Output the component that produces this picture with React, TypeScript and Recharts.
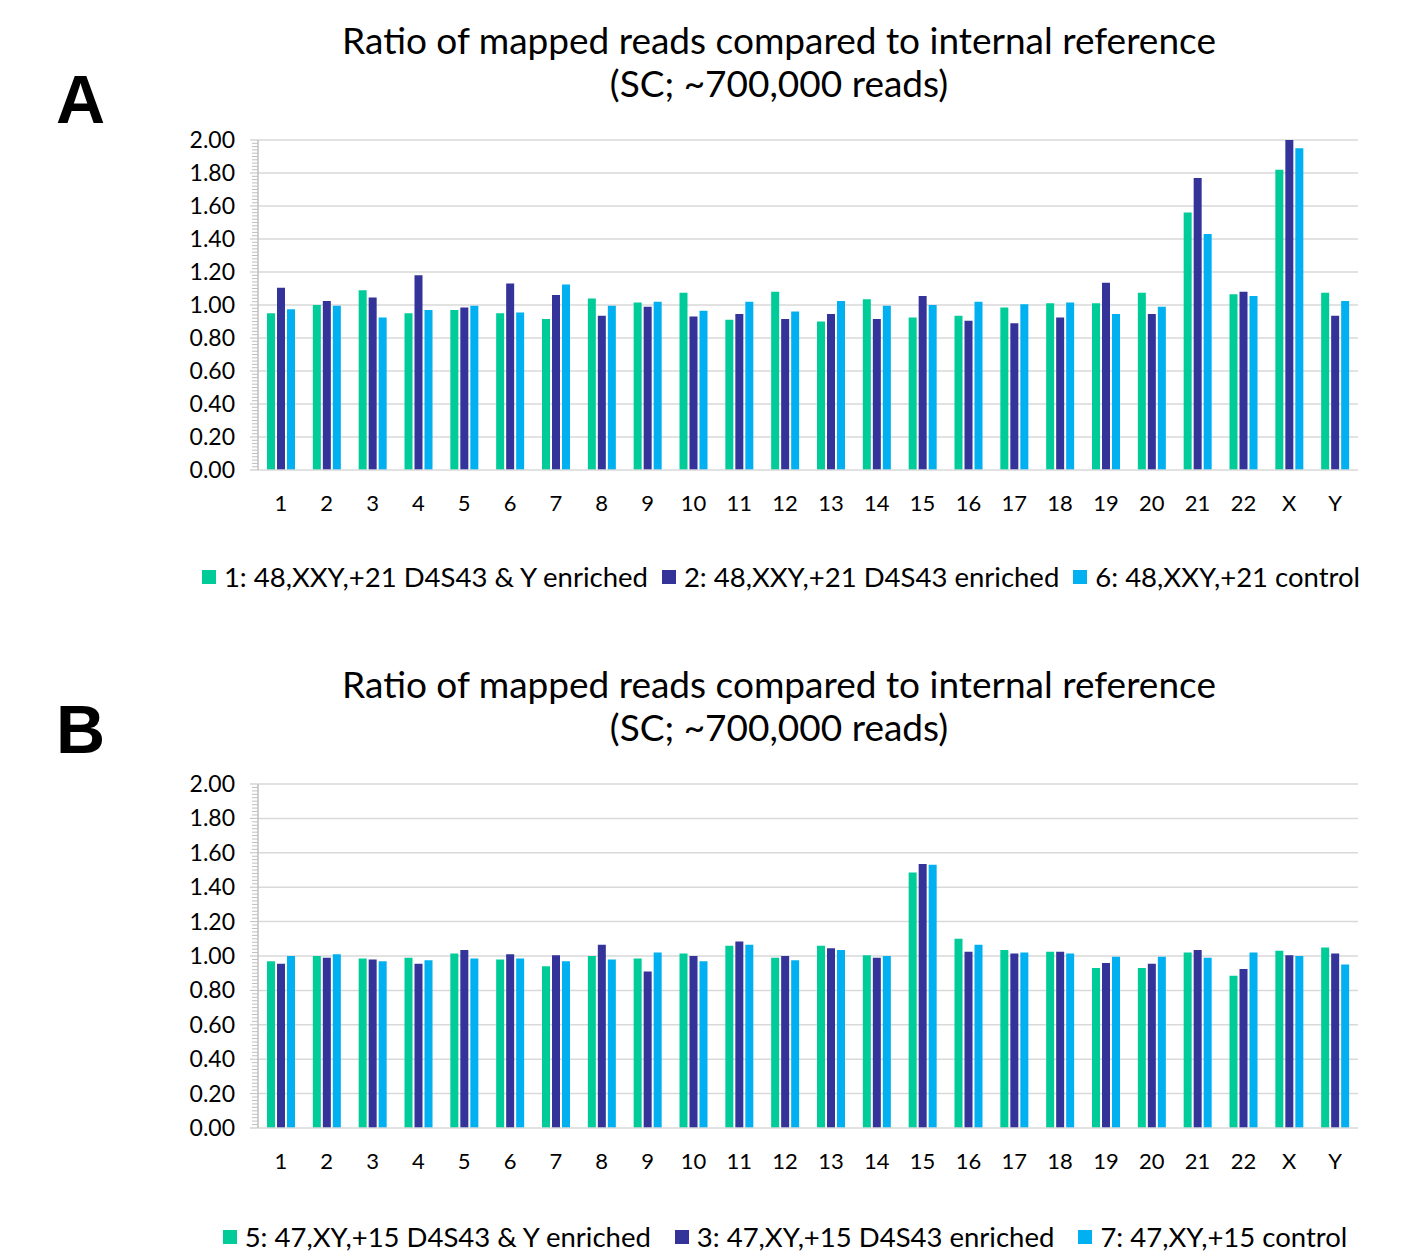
import React from 'react';
import { BarChart, Bar, XAxis, YAxis, CartesianGrid } from 'recharts';

const chromosomes = ['1', '2', '3', '4', '5', '6', '7', '8', '9', '10', '11', '12', '13', '14', '15', '16', '17', '18', '19', '20', '21', '22', 'X', 'Y'];

// panel A
const s1Enriched = [0.95, 1.0, 1.09, 0.95, 0.97, 0.95, 0.915, 1.04, 1.015, 1.075, 0.91, 1.08, 0.9, 1.035, 0.925, 0.935, 0.985, 1.01, 1.01, 1.075, 1.56, 1.065, 1.82, 1.075];
const s2Enriched = [1.105, 1.025, 1.045, 1.18, 0.985, 1.13, 1.06, 0.935, 0.99, 0.93, 0.945, 0.915, 0.945, 0.915, 1.055, 0.905, 0.89, 0.925, 1.135, 0.945, 1.77, 1.08, 2.0, 0.935];
const s6Control = [0.975, 0.995, 0.925, 0.97, 0.995, 0.955, 1.125, 0.995, 1.02, 0.965, 1.02, 0.96, 1.025, 0.995, 1.0, 1.02, 1.005, 1.015, 0.945, 0.99, 1.43, 1.055, 1.95, 1.025];

// panel B
const s5Enriched = [0.97, 1.0, 0.985, 0.99, 1.015, 0.98, 0.94, 1.0, 0.985, 1.015, 1.06, 0.99, 1.06, 1.005, 1.485, 1.1, 1.035, 1.025, 0.93, 0.93, 1.02, 0.885, 1.03, 1.05];
const s3Enriched = [0.955, 0.99, 0.98, 0.955, 1.035, 1.01, 1.005, 1.065, 0.91, 1.0, 1.085, 1.0, 1.045, 0.99, 1.535, 1.025, 1.015, 1.025, 0.96, 0.955, 1.035, 0.925, 1.005, 1.015];
const s7Control = [1.0, 1.01, 0.97, 0.975, 0.985, 0.985, 0.97, 0.98, 1.02, 0.97, 1.065, 0.975, 1.035, 1.0, 1.53, 1.065, 1.02, 1.015, 0.995, 0.995, 0.99, 1.02, 1.0, 0.95];

const seriesNamesA = ['1: 48,XXY,+21 D4S43 & Y enriched', '2: 48,XXY,+21 D4S43 enriched', '6: 48,XXY,+21 control'];
const seriesNamesB = ['5: 47,XY,+15 D4S43 & Y enriched', '3: 47,XY,+15 D4S43 enriched', '7: 47,XY,+15 control'];

const yTicks = [0, 0.2, 0.4, 0.6, 0.8, 1.0, 1.2, 1.4, 1.6, 1.8, 2.0];
const yMinorTicks = Array.from({ length: 101 }, (_, i) => Math.round(i * 2) / 100);

const COLORS = ['#00CC99', '#333399', '#00B0F0'];
const FONT = 'Lato, "Open Sans", sans-serif';

function YTick(props: any) {
  const { x, y, payload } = props;
  const v = payload.value;
  const major = Math.abs(v * 5 - Math.round(v * 5)) < 1e-6;
  return (
    <g>
      <line x1={x - (major ? 8 : 6)} x2={x} y1={y} y2={y} stroke="#bfbfbf" strokeWidth={1} />
      {major && (
        <text x={x - 23} y={y + 8} textAnchor="end" fontSize={23} fontFamily={FONT} fill="#000">
          {v.toFixed(2)}
        </text>
      )}
    </g>
  );
}

function Panel({ top, height, letter, letterTop, legendTop, legendGap, legendLeft, names, series }: any) {
  const data = chromosomes.map((c, i) => ({ name: c, s0: series[0][i], s1: series[1][i], s2: series[2][i] }));
  return (
    <>
      <div style={{ position: 'absolute', left: 56, top: top + letterTop, fontFamily: '"Liberation Sans", Arial, sans-serif', fontWeight: 'bold', fontSize: 68, lineHeight: '66px' }}>
        {letter}
      </div>
      <div style={{ position: 'absolute', left: 279, width: 1000, top: top + 18, textAlign: 'center', fontFamily: FONT, fontSize: 37, lineHeight: '43px', color: '#000' }}>
        Ratio of mapped reads compared to internal reference
        <br />
        (SC; ~700,000 reads)
      </div>
      <div style={{ position: 'absolute', left: 0, top, width: 1405, height }}>
        <BarChart width={1405} height={height} data={data} margin={{ top: 140, right: 47, left: 198, bottom: 30 }} barSize={8} barGap={2}>
          <CartesianGrid vertical={false} horizontalValues={yTicks.slice(1)} stroke="#d9d9d9" strokeWidth={1.5} />
          <XAxis dataKey="name" height={40} axisLine={{ stroke: '#d9d9d9', strokeWidth: 1.5 }} tickLine={false} tickSize={0} tickMargin={25} interval={0} tick={{ fill: '#000', fontSize: 22, fontFamily: FONT }} />
          <YAxis width={60} domain={[0, 2]} ticks={yMinorTicks} interval={0} tickSize={0} tickMargin={0} tickLine={false} axisLine={{ stroke: '#bfbfbf', strokeWidth: 1.5 }} tick={<YTick />} />
          {[0, 1, 2].map((k) => (
            <Bar key={k} dataKey={'s' + k} name={names[k]} fill={COLORS[k]} isAnimationActive={false} />
          ))}
        </BarChart>
      </div>
      <div style={{ position: 'absolute', left: legendLeft, width: 1200, top: legendTop, display: 'flex', justifyContent: 'center', fontFamily: FONT, fontSize: 27.5, lineHeight: '30px', whiteSpace: 'nowrap' }}>
        {names.map((n: string, k: number) => (
          <span key={k} style={{ display: 'flex', alignItems: 'center', marginRight: k < 2 ? legendGap : 0 }}>
            <span style={{ display: 'inline-block', width: 14, height: 14, background: COLORS[k], marginRight: 8 }} />
            {n}
          </span>
        ))}
      </div>
    </>
  );
}

export default function App() {
  return (
    <div style={{ position: 'absolute', left: 0, top: 0, width: 1405, height: 1254, background: '#fff' }}>
      <Panel top={0} height={540} letter="A" letterTop={66} legendTop={562} legendGap={14} legendLeft={181} names={seriesNamesA} series={[s1Enriched, s2Enriched, s6Control]} />
      <Panel top={644} height={554} letter="B" letterTop={52} legendTop={1222} legendGap={24} legendLeft={185} names={seriesNamesB} series={[s5Enriched, s3Enriched, s7Control]} />
    </div>
  );
}
